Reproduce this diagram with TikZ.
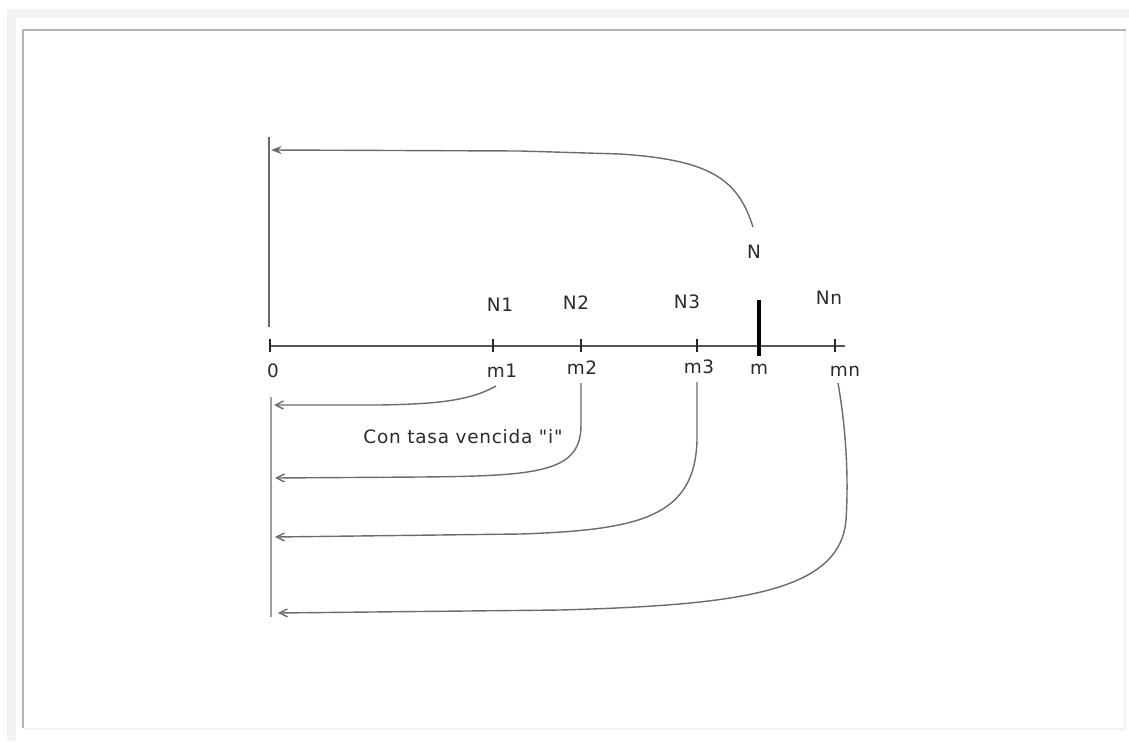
\documentclass[tikz,border=0pt]{standalone}
\usepackage{fontspec}
\newfontfamily\labelfont{DejaVu Sans}[LetterSpace=4]
\usetikzlibrary{arrows.meta}
\definecolor{framelight}{HTML}{F2F2F2}
\definecolor{framedark}{HTML}{B4B4B4}
\definecolor{ink}{HTML}{2A2A2A}
\tikzset{
  lab/.style={text=ink,font=\labelfont\fontsize{10.5}{12}\selectfont,inner sep=0pt},
  tickmark/.style={draw=ink!90!black,line width=1.2pt},
  flow/.style={draw=gray!85!black,line width=0.8pt,-{Straight Barb[length=4.5pt,width=4.5pt]}},
}
\begin{document}
\begin{tikzpicture}[x=0.02cm,y=-0.02cm]
        \useasboundingbox (0,0) rectangle (1129,741);
        % page frame
        \fill[white] (0,0) rectangle (1129,741);
        \fill[framelight] (7,9) rectangle (1129,18);
        \fill[framelight] (7,9) rectangle (16,741);
        \fill[framedark] (22,29) rectangle (1126,30.5);
        \fill[framedark] (22,29) rectangle (24,728);
        \fill[framelight] (1124,30.5) rectangle (1126,730);
        \fill[framelight] (24,728) rectangle (1126,730);
        % time line with ticks
        \draw[ink!80,line width=0.7pt] (269,346) -- (845,346);
        \foreach \tx in {270,493,581,697,835}
          \draw[tickmark] (\tx,339) -- (\tx,352);
        \draw[black,line width=1.8pt] (759,300) -- (759,356);
        % labels below and above
        \node[lab] (l0) at (273,371) {0};
        \node[lab] (lm1) at (502,371) {m1};
        \node[lab] (lm2) at (582,368) {m2};
        \node[lab] (lm3) at (699,367) {m3};
        \node[lab] (lm) at (759,369) {m};
        \node[lab] (lmn) at (845,371) {mn};
        \node[lab] (n1) at (500,305) {N1};
        \node[lab] (n2) at (576,303) {N2};
        \node[lab] (n3) at (687,302) {N3};
        \node[lab] (nn) at (829,298) {Nn};
        \node[lab] (nN) at (754,252) {N};
        \node[lab] (rate) at (463,437) {Con tasa vencida "i"};
        % present value axis (top) and future value axis (bottom)
        \coordinate (top0) at (269,137);
        \coordinate (top1) at (269,327);
        \coordinate (bot0) at (271,397);
        \coordinate (bot1) at (271,617);
        \draw[ink!70,line width=0.9pt] (top0) -- (top1);
        \draw[gray!75,line width=1.4pt] (bot0) -- (bot1);
        % N brought back to 0
        \coordinate (sN) at (753,227);
        \coordinate (eN) at (271,150);
        \draw[flow,-{Stealth[length=6pt,width=4.5pt]}]
          (sN) .. controls (738,180) and (712,160) .. (620,154) -- (520,151) -- (eN);
        % payments brought to 0
        \coordinate (s1) at (496,386);
        \coordinate (e1) at (274,405);
        \coordinate (s2) at (581,383);
        \coordinate (e2) at (275,478);
        \coordinate (s3) at (697,382);
        \coordinate (e3) at (275,537);
        \coordinate (s4) at (838,383);
        \coordinate (e4) at (278,613);
        \draw[flow] (s1) .. controls (468,402) and (430,404) .. (380,405) -- (e1);
        \draw[flow] (s2) -- (581,425) .. controls (581,472) and (540,476) .. (420,477) -- (e2);
        \draw[flow] (s3) -- (697,440) .. controls (695,517) and (640,530) .. (520,534) -- (e3);
        \draw[flow] (s4) .. controls (848,440) and (848,490) .. (846,520)
          .. controls (840,592) and (740,605) .. (560,610) -- (e4);
      \end{tikzpicture}
\end{document}
